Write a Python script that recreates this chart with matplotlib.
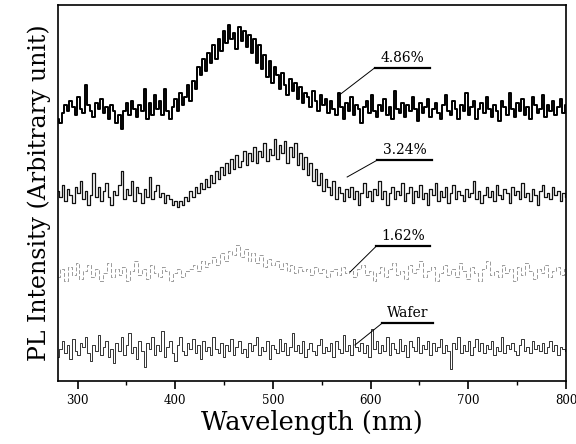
import numpy as np
import matplotlib
matplotlib.use('Agg')
import matplotlib.pyplot as plt
from matplotlib.ticker import MultipleLocator

# PL spectra (arbitrary units), 280-800 nm
pl_486 = [262, 258, 268, 276, 270, 280, 274, 266, 284, 272,
          268, 296, 276, 270, 264, 278, 272, 282, 268, 274,
          262, 276, 270, 258, 266, 252, 270, 278, 266, 280,
          272, 264, 276, 270, 292, 262, 278, 266, 286, 272,
          280, 266, 292, 270, 262, 274, 282, 270, 288, 276,
          284, 296, 280,
          300, 292, 314, 306, 322, 310, 328, 318, 336, 322,
          342, 330, 350, 338, 356, 342, 348,
          332, 354, 340, 350, 334, 346, 328, 342,
          318, 336, 312, 326, 304, 320, 298, 314, 306, 292,
          308, 296, 286, 302, 290, 298, 282, 294, 278, 288,
          284, 274, 290, 280, 270, 286, 276, 282, 268, 280,
          272, 266, 288, 274, 262, 278, 270, 284, 266, 276,
          272, 258, 274, 280, 268, 286, 270, 264, 276, 270,
          282, 266, 274, 262, 290, 272, 268, 278, 264, 276,
          270, 284, 272, 260, 278, 268, 274, 282, 264, 272,
          278, 268, 262, 276, 286, 270, 266, 280, 272, 262,
          276, 270, 288, 266, 274, 280, 262, 272, 278, 268,
          284, 272, 264, 276, 270, 260, 280, 274, 266, 288,
          272, 264, 278, 270, 282, 266, 274, 262, 284, 276,
          268, 272, 286, 264, 276, 270, 280, 266, 274, 282,
          268, 276]
pl_324 = [190, 184, 196, 180, 192, 186, 178, 194, 188, 200,
          182, 190, 176, 186, 208, 184, 194, 180, 190, 198,
          184, 176, 190, 186, 196, 210, 182, 192, 186, 200,
          180, 194, 188, 178, 192, 184, 204, 182, 190, 196,
          184, 188, 178, 186, 182, 176, 180, 174,
          180, 176, 184, 180, 190, 184, 194, 188, 198, 192,
          202, 194, 206, 198, 210, 202, 214, 206, 218, 208,
          222, 212, 226, 214, 220, 230, 216, 228, 220, 234,
          218, 230, 224, 238, 220, 232,
          226, 242, 222, 236, 228, 240, 218, 234, 224, 238, 216, 228,
          212, 224, 206, 218, 200, 212, 196, 208, 190, 202,
          194, 186, 200, 182, 194, 188, 180, 192, 184,
          194, 182, 190, 176, 188, 198, 184, 190, 180, 192,
          186, 200, 182, 190, 176, 188, 194, 182, 190, 186,
          198, 180, 188, 194, 178, 190, 184, 196, 182, 188,
          176, 192, 186, 198, 180, 190, 184, 194, 178, 188,
          196, 182, 190, 186, 180, 192, 184, 188, 200, 182,
          190, 178, 186, 194, 184, 190, 180, 196, 186, 182,
          192, 188, 178, 194, 186, 190, 182, 198, 184, 188,
          180, 192, 186, 176, 190, 196, 184, 188, 182, 194,
          186, 190, 180, 188, 184]
pl_162 = [104, 112, 100, 114, 106, 118, 102, 110, 116, 104, 112, 100, 108, 118, 104, 112, 106, 114,
          100, 110, 120, 106, 112, 102, 116, 108, 104, 114, 110, 100, 108, 112, 104, 110, 112, 116,
          110, 120, 114, 118, 124, 116, 128, 120, 130, 126, 136, 124, 132, 120, 128, 118, 126, 114,
          122, 116, 120, 112, 118, 110, 116, 108, 114, 110, 112, 106, 114, 108, 112, 104, 110, 112,
          106, 114, 108, 110, 104, 112, 116, 106, 110, 100, 108, 114, 104, 112, 118, 106, 110, 102,
          116, 108, 112, 120, 104, 110, 114, 100, 108, 116, 106, 112, 104, 118, 110, 102, 114, 108,
          100, 112, 120, 106, 110, 104, 116, 108, 112, 100, 114, 106, 118, 110, 102, 112, 108, 116,
          104, 110, 114, 106, 112]
pl_wafer = [24, 32, 40, 28, 36, 22, 42, 30, 26, 38,
            34, 44, 28, 20, 36, 30, 46, 26, 34, 40,
            24, 32, 18, 38, 30, 44, 26, 36, 48, 28,
            34, 22, 40, 30, 14, 38, 32, 44, 26, 36,
            30, 50, 24, 34, 40, 28, 20, 36, 44, 30,
            26, 38, 32, 42, 28, 36, 22, 40, 30, 34,
            26, 44, 32, 28, 38, 24, 36, 30, 42, 26,
            34, 40, 28, 32, 24, 38, 30, 36, 44, 26,
            34, 30, 40, 22, 36, 32, 28, 42, 30, 38,
            26, 34, 48, 30, 36, 28, 40, 24, 32, 38,
            30, 26, 36, 42, 28, 34, 30, 38, 24, 40,
            32, 28, 46, 30, 36, 26, 42, 34, 30, 38,
            28, 36, 24, 52, 32, 40, 28, 36, 30, 44,
            26, 38, 32, 28, 42, 30, 36, 24, 40, 34,
            30, 44, 28, 36, 32, 40, 26, 38, 30, 34,
            42, 28, 36, 30, 12, 38, 32, 44, 28, 36,
            30, 40, 26, 34, 42, 30, 38, 28, 36, 32,
            40, 26, 34, 30, 44, 28, 36, 32, 38, 30,
            26, 36, 42, 30, 34, 28, 40, 32, 36, 30,
            38, 28, 34, 40, 30, 36, 26, 34, 32, 30]

labels = ['4.86%', '3.24%', '1.62%', 'Wafer']
# leader line: start on curve, start of underline, end of underline (wl, intensity)
leaders = [
    [(568, 286), (604, 313), (661, 313)],
    [(576, 204), (607, 221), (663, 221)],
    [(579, 109), (606, 135), (661, 135)],
    [(584, 36), (612, 58), (664, 58)],
]

curves = [pl_486, pl_324, pl_162, pl_wafer]
styles = [dict(color='black', lw=1.4),
          dict(color='#111111', lw=0.9),
          dict(color='#9a9a9a', lw=0.7, ls=(0, (4, 2))),
          dict(color='#333333', lw=0.7)]

fig = plt.figure(figsize=(5.76, 4.44), dpi=100)
ax = fig.add_axes([0.1007, 0.1419, 0.8819, 0.8468])

for y, st in zip(curves, styles):
    wl = np.linspace(280, 800, len(y))
    ax.plot(wl, y, drawstyle='steps-mid', **st)

for lab, pts in zip(labels, leaders):
    xs = [p[0] for p in pts]
    ys = [p[1] for p in pts]
    ax.plot(xs[:2], ys[:2], color='black', lw=0.7)
    ax.plot(xs[1:], ys[1:], color='black', lw=1.6)
    ax.text((xs[1] + xs[2]) / 2, ys[1] + 3, lab, ha='center', va='bottom',
            family='DejaVu Serif', fontsize=10)

ax.set_xlim(280, 800)
ax.set_ylim(0, 376)
ax.xaxis.set_major_locator(MultipleLocator(100))
ax.xaxis.set_minor_locator(MultipleLocator(50))
ax.set_yticks([])
ax.tick_params(axis='x', which='major', direction='out', length=6, width=1.2, labelsize=8.5)
ax.tick_params(axis='x', which='minor', direction='out', length=3, width=1.0)
for lbl in ax.get_xticklabels():
    lbl.set_family('DejaVu Serif')
for sp in ax.spines.values():
    sp.set_linewidth(1.2)

ax.set_xlabel('Wavelength (nm)', family='DejaVu Serif', fontsize=18.5, labelpad=2)
ax.set_ylabel('PL Intensity (Arbitrary unit)', family='DejaVu Serif', fontsize=17, labelpad=5)

fig.savefig('out.png', dpi=100)
